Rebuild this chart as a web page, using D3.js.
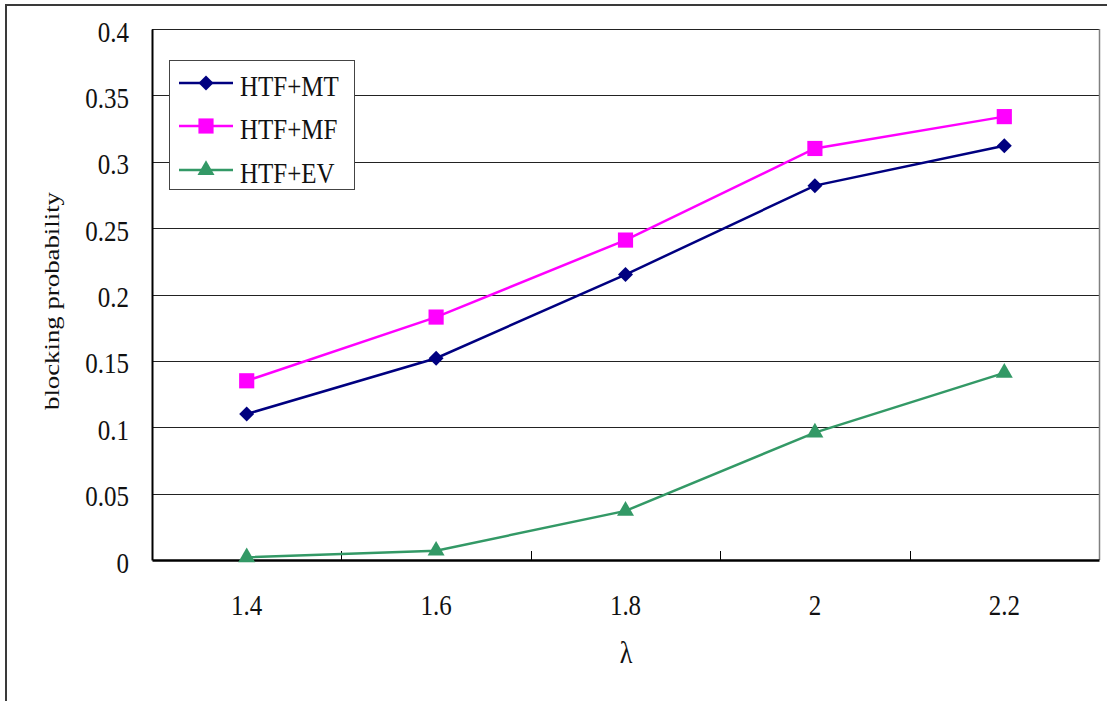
<!DOCTYPE html>
<html>
<head>
<meta charset="utf-8">
<script src="https://cdn.jsdelivr.net/npm/d3@7"></script>
<style>
  html, body { margin: 0; padding: 0; background: #fff; }
  svg { display: block; }
  svg text { font-family: "Liberation Serif", "Times New Roman", "DejaVu Serif", serif !important; fill: #111; }
</style>
</head>
<body>
<svg id="chart" width="1107" height="701"></svg>
<script>
// Blocking probability against arrival rate λ
const categories = ["1.4", "1.6", "1.8", "2", "2.2"];
const seriesNames = ["HTF+MT", "HTF+MF", "HTF+EV"];
const htfMT = [0.110, 0.152, 0.215, 0.282, 0.312];
const htfMF = [0.135, 0.183, 0.241, 0.310, 0.334];
const htfEV = [0.002, 0.007, 0.037, 0.096, 0.141];
const yTicks = [0, 0.05, 0.1, 0.15, 0.2, 0.25, 0.3, 0.35, 0.4];
const yTickLabels = ["0", "0.05", "0.1", "0.15", "0.2", "0.25", "0.3", "0.35", "0.4"];

const series = [
  { name: seriesNames[0], values: htfMT, color: "#000080", marker: "diamond" },
  { name: seriesNames[1], values: htfMF, color: "#FF00FF", marker: "square" },
  { name: seriesNames[2], values: htfEV, color: "#339966", marker: "triangle" }
];

const svg = d3.select("#chart");
const plot = { left: 152, top: 29, right: 1099, bottom: 560 };
const K = 1.22; // vertical stretch for the tall, narrow label face

// Place a text with its baseline at (x, y), stretched vertically by K
function tallText(sel, x, y) {
  return sel.attr("x", x).attr("y", y / K).attr("transform", `scale(1,${K})`);
}

// Outer frame (left and top edges)
svg.append("path")
  .attr("d", "M6,701 V5 H1107")
  .attr("fill", "none").attr("stroke", "#3a3a3a").attr("stroke-width", 2);

const x = d3.scaleBand().domain(categories).range([plot.left, plot.right]).padding(0);
const y = d3.scaleLinear().domain([0, 0.4]).range([plot.bottom, plot.top]);

// Horizontal gridlines
svg.append("g")
  .selectAll("line")
  .data(yTicks.slice(1))
  .join("line")
  .attr("x1", plot.left).attr("x2", plot.right)
  .attr("y1", d => Math.round(y(d)) + 0.5).attr("y2", d => Math.round(y(d)) + 0.5)
  .attr("stroke", "#222").attr("stroke-width", 1);

// Right border of plot area
svg.append("line")
  .attr("x1", plot.right + 0.5).attr("x2", plot.right + 0.5)
  .attr("y1", plot.top).attr("y2", plot.bottom)
  .attr("stroke", "#808080").attr("stroke-width", 1.5);

// Y axis
const yAxis = d3.axisLeft(y).tickValues(yTicks)
  .tickFormat((d, i) => yTickLabels[i]).tickSize(0).tickPadding(23);
const gy = svg.append("g").attr("transform", `translate(${plot.left},0)`).call(yAxis);
gy.attr("font-size", 25);
gy.select(".domain").attr("stroke", "#000").attr("stroke-width", 2);
gy.selectAll(".tick text").attr("fill", "#111").attr("dy", null)
  .each(function () { tallText(d3.select(this), -23, 12); });

// X axis: category ticks between categories, pointing inward
const xAxis = d3.axisBottom(x).tickSize(0).tickPadding(34);
const gx = svg.append("g").attr("transform", `translate(0,${plot.bottom})`).call(xAxis);
gx.attr("font-size", 25);
gx.select(".domain").attr("stroke", "#000").attr("stroke-width", 2.5);
gx.selectAll(".tick text").attr("fill", "#111").attr("dy", null)
  .each(function () { tallText(d3.select(this), 0, 55); });
svg.append("g").selectAll("line")
  .data(categories.slice(1))
  .join("line")
  .attr("x1", d => Math.round(x(d)) + 0.5).attr("x2", d => Math.round(x(d)) + 0.5)
  .attr("y1", plot.bottom).attr("y2", plot.bottom - 9)
  .attr("stroke", "#000").attr("stroke-width", 1);

// Axis titles
svg.append("text")
  .attr("text-anchor", "middle").attr("font-size", 26)
  .call(tallText, 626, 663)
  .text("λ");
svg.append("text")
  .attr("transform", "translate(59,301) rotate(-90)")
  .attr("text-anchor", "middle").attr("font-size", 21)
  .attr("textLength", 218).attr("lengthAdjust", "spacingAndGlyphs")
  .text("blocking probability");

// Marker shapes
const symbolFor = {
  diamond: d3.symbol().type(d3.symbolSquare).size(112),
  square: d3.symbol().type(d3.symbolSquare).size(230),
  triangle: d3.symbol().type(d3.symbolTriangle).size(125)
};
function drawMarker(g, s, cx, cy) {
  const p = g.append("path")
    .attr("d", symbolFor[s.marker]())
    .attr("fill", s.color);
  if (s.marker === "diamond") p.attr("transform", `translate(${cx},${cy}) rotate(45)`);
  else p.attr("transform", `translate(${cx},${cy})`);
}

const line = d3.line()
  .x((d, i) => x(categories[i]) + x.bandwidth() / 2)
  .y(d => y(d));

series.forEach(s => {
  const g = svg.append("g");
  g.append("path")
    .attr("d", line(s.values))
    .attr("fill", "none").attr("stroke", s.color).attr("stroke-width", 2.5);
  s.values.forEach((v, i) => {
    drawMarker(g, s, x(categories[i]) + x.bandwidth() / 2, y(v));
  });
});

// Legend
const legend = svg.append("g");
legend.append("rect")
  .attr("x", 169.5).attr("y", 60.5).attr("width", 185).attr("height", 129)
  .attr("fill", "#fff").attr("stroke", "#444").attr("stroke-width", 1);
const rowY = [83, 126, 170];
series.forEach((s, i) => {
  legend.append("line")
    .attr("x1", 179).attr("x2", 233)
    .attr("y1", rowY[i]).attr("y2", rowY[i])
    .attr("stroke", s.color).attr("stroke-width", 2.5);
  drawMarker(legend, s, 206, rowY[i]);
  legend.append("text")
    .attr("font-size", 25)
    .call(tallText, 240, rowY[i] + 13)
    .text(s.name);
});
</script>
</body>
</html>
